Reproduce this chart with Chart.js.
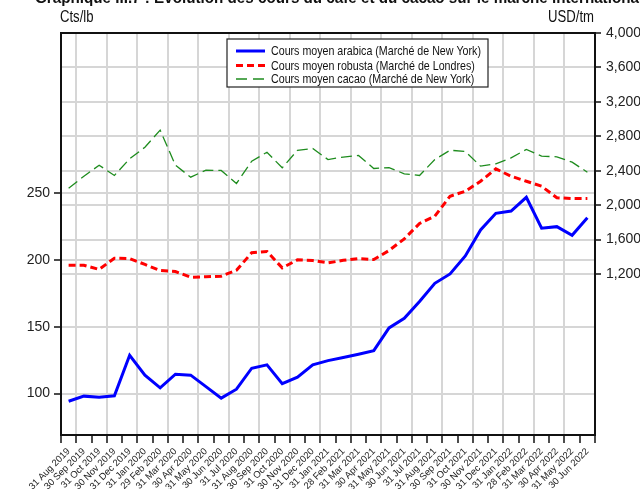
<!DOCTYPE html>
<html>
<head>
<meta charset="utf-8">
<script src="https://cdn.jsdelivr.net/npm/chart.js@4/dist/chart.umd.min.js"></script>
<style>
  html, body { margin: 0; padding: 0; background: #fff; }
  #wrap { width: 640px; height: 489px; }
</style>
</head>
<body>
<div id="wrap"><canvas id="coursChart" width="640" height="489"></canvas></div>
<script>
const months = ['31 Aug 2019', '30 Sep 2019', '31 Oct 2019', '30 Nov 2019', '31 Dec 2019',
  '31 Jan 2020', '29 Feb 2020', '31 Mar 2020', '30 Apr 2020', '31 May 2020', '30 Jun 2020',
  '31 Jul 2020', '31 Aug 2020', '30 Sep 2020', '31 Oct 2020', '30 Nov 2020', '31 Dec 2020',
  '31 Jan 2021', '28 Feb 2021', '31 Mar 2021', '30 Apr 2021', '31 May 2021', '30 Jun 2021',
  '31 Jul 2021', '31 Aug 2021', '30 Sep 2021', '31 Oct 2021', '30 Nov 2021', '31 Dec 2021',
  '31 Jan 2022', '28 Feb 2022', '31 Mar 2022', '30 Apr 2022', '31 May 2022', '30 Jun 2022'];

// Cts/lb (axe gauche)
const arabica = [94.3, 98.1, 97.3, 98.3, 128.7, 113.8, 104.3, 114.5, 113.8, 105.2, 96.6, 103.3,
  119.0, 121.5, 107.5, 112.3, 121.5, 124.7, 127.0, 129.5, 132.2, 149.2, 156.4, 168.9, 182.6,
  189.6, 203.1, 222.5, 235.0, 236.7, 247.0, 223.8, 225.0, 218.5, 231.7];

// USD/tm (axe droit)
const robusta = [1302, 1302, 1253, 1384, 1380, 1311, 1241, 1229, 1163, 1168, 1175, 1244,
  1447, 1462, 1272, 1365, 1357, 1330, 1359, 1380, 1369, 1473, 1609, 1787, 1872,
  2104, 2162, 2278, 2422, 2336, 2278, 2220, 2086, 2077, 2077];
const cacao = [2197, 2336, 2464, 2345, 2539, 2673, 2871, 2464, 2325, 2406, 2403, 2252,
  2511, 2615, 2434, 2638, 2658, 2530, 2559, 2577, 2426, 2437, 2364, 2345, 2530,
  2638, 2623, 2453, 2480, 2550, 2647, 2569, 2562, 2499, 2383];

const leftTicks = [100, 150, 200, 250];
const rightTicks = [1200, 1600, 2000, 2400, 2800, 3200, 3600, 4000];
const seriesNames = ['Cours moyen arabica (Marché de New York)',
  'Cours moyen robusta (Marché de Londres)',
  'Cours moyen cacao (Marché de New York)'];

const fontFamily = "'Liberation Sans', Arial, sans-serif";
Chart.defaults.font.family = fontFamily;
Chart.defaults.color = '#222';

const styles = [
  { color: '#0000ff', width: 3, dash: [] },
  { color: '#ff0000', width: 3, dash: [7, 4] },
  { color: '#1e8c1e', width: 1.3, dash: [11, 5] }
];

// texte resserré horizontalement (la source utilise une police étroite)
function narrowText(ctx, text, x, y, sx) {
  ctx.save();
  ctx.translate(x, y);
  ctx.scale(sx, 1);
  ctx.fillText(text, 0, 0);
  ctx.restore();
}

// cadre, légende, unités et titre
const decorations = {
  id: 'decorations',
  afterDraw(chart) {
    const ctx = chart.ctx;
    const area = chart.chartArea;
    ctx.save();
    ctx.strokeStyle = '#111';
    ctx.lineWidth = 2;
    ctx.strokeRect(area.left, area.top, area.right - area.left, area.bottom - area.top);

    // légende
    const lx = 227, ly = 39, lw = 261, lh = 48;
    ctx.fillStyle = '#fff';
    ctx.fillRect(lx, ly, lw, lh);
    ctx.lineWidth = 1.2;
    ctx.strokeStyle = '#222';
    ctx.strokeRect(lx, ly, lw, lh);
    const rows = [51, 65.5, 79];
    ctx.font = '13px ' + fontFamily;
    ctx.textBaseline = 'middle';
    ctx.textAlign = 'left';
    seriesNames.forEach((name, i) => {
      const s = styles[i];
      ctx.beginPath();
      ctx.setLineDash(i === 2 ? [11, 6] : s.dash);
      ctx.strokeStyle = s.color;
      ctx.lineWidth = s.width;
      ctx.moveTo(236, rows[i]);
      ctx.lineTo(265, rows[i]);
      ctx.stroke();
      ctx.setLineDash([]);
      ctx.fillStyle = '#111';
      narrowText(ctx, name, 271, rows[i] + 0.5, 0.82);
    });

    // unités
    ctx.font = '16px ' + fontFamily;
    ctx.textBaseline = 'alphabetic';
    ctx.fillStyle = '#111';
    narrowText(ctx, 'Cts/lb', 60, 22, 0.82);
    const w = ctx.measureText('USD/tm').width * 0.82;
    narrowText(ctx, 'USD/tm', 594 - w, 22, 0.82);

    // titre (coupé en haut)
    ctx.font = 'bold 16px ' + fontFamily;
    narrowText(ctx, 'Graphique III.7 : Evolution des cours du café et du cacao sur le marché international', 35, 3, 0.95);
    ctx.restore();
  }
};

const coursChart = new Chart(document.getElementById('coursChart').getContext('2d'), {
  type: 'line',
  data: {
    labels: months,
    datasets: [
      { label: seriesNames[0], data: arabica, yAxisID: 'yLeft' },
      { label: seriesNames[1], data: robusta, yAxisID: 'yRight' },
      { label: seriesNames[2], data: cacao, yAxisID: 'yRight' }
    ].map((d, i) => Object.assign(d, {
      borderColor: styles[i].color,
      borderWidth: styles[i].width,
      borderDash: styles[i].dash,
      pointRadius: 0,
      tension: 0,
      fill: false
    }))
  },
  options: {
    responsive: false,
    animation: false,
    layout: { padding: { top: 33, left: 0, right: 0, bottom: 0 } },
    plugins: {
      legend: { display: false },
      title: { display: false },
      tooltip: { enabled: false }
    },
    scales: {
      x: {
        type: 'category',
        offset: true,
        border: { display: false },
        grid: {
          offset: true,
          color: (c) => (c.index % 2 === 1 ? '#d6d6d6' : 'rgba(0,0,0,0)'),
          lineWidth: 2,
          tickColor: '#111',
          tickWidth: 1.5,
          tickLength: 8
        },
        ticks: {
          autoSkip: false,
          minRotation: 45,
          maxRotation: 45,
          padding: 3,
          font: { size: 9.5 }
        },
        afterFit(scale) { scale.height = 54; }
      },
      yLeft: {
        position: 'left',
        min: 69,
        max: 370,
        border: { display: false },
        grid: { color: '#d6d6d6', lineWidth: 2, tickColor: '#111', tickWidth: 1.5, tickLength: 7 },
        ticks: { padding: 4, font: { size: 14 } },
        afterBuildTicks(scale) { scale.ticks = leftTicks.map(v => ({ value: v })); },
        afterFit(scale) { scale.width = 61; }
      },
      yRight: {
        position: 'right',
        min: -670,
        max: 4000,
        border: { display: false },
        grid: { color: '#d6d6d6', lineWidth: 2, tickColor: '#111', tickWidth: 1.5, tickLength: 6 },
        ticks: {
          padding: 5,
          font: { size: 14 },
          callback: (v) => Number(v).toLocaleString('en-US')
        },
        afterBuildTicks(scale) { scale.ticks = rightTicks.map(v => ({ value: v })); },
        afterFit(scale) { scale.width = 45; }
      }
    }
  },
  plugins: [decorations]
});
</script>
</body>
</html>
